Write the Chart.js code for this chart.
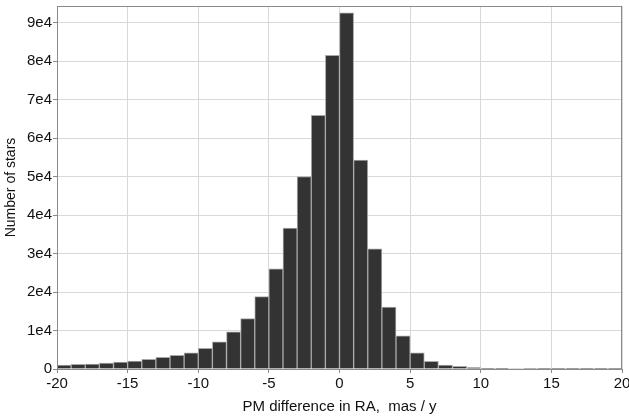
<!DOCTYPE html>
<html>
<head>
<meta charset="utf-8">
<script src="https://cdn.jsdelivr.net/npm/chart.js@4/dist/chart.umd.min.js"></script>
<style>
    html, body { margin: 0; padding: 0; background: #fff; }
    #wrap { width: 629px; height: 416px; }
</style>
</head>
<body>
<div id="wrap"><canvas id="myChart" width="629" height="416"></canvas></div>
<script>
// histogram data, bins of width 1 from -20 to 20
const binStart = -20
const binWidth = 1
const counts = [
    1000, 1200, 1300, 1550, 1800, 2070, 2500, 3000, 3550, 4200,
    5400, 7070, 9650, 13100, 18800, 26000, 36600, 50000, 65900, 81500,
    92500, 54300, 31200, 16100, 8600, 4200, 2000, 1000, 700, 350,
    200, 160, 130, 110, 100, 90, 80, 70, 60, 50
]
const xTicks = [-20, -15, -10, -5, 0, 5, 10, 15, 20]
const yTicks = [0, 10000, 20000, 30000, 40000, 50000, 60000, 70000, 80000, 90000]

const points = counts.map((c, i) => ({ x: binStart + binWidth * (i + 0.5), y: c }))

// grey frame round the plot area
const frame = {
    id: 'frame',
    afterDraw(chart) {
        const a = chart.chartArea
        const ctx = chart.ctx
        ctx.save()
        ctx.strokeStyle = '#8a8a8a'
        ctx.lineWidth = 1
        ctx.strokeRect(a.left + 0.5, a.top + 0.5, a.right - a.left - 1, a.bottom - a.top)
        ctx.restore()
    }
}

const config = {
    type: 'bar',
    data: {
        datasets: [{
            data: points,
            backgroundColor: '#333333',
            borderColor: '#a8a8a8',
            borderWidth: 1,
            borderSkipped: 'bottom',
            barPercentage: 1,
            categoryPercentage: 1,
        }]
    },
    options: {
        responsive: false,
        animation: false,
        plugins: {
            legend: { display: false },
            tooltip: { enabled: false }
        },
        layout: { padding: { top: 6, right: 0, left: 0, bottom: 0 } },
        scales: {
            x: {
                type: 'linear',
                offset: false,
                min: xTicks[0],
                max: xTicks[xTicks.length - 1],
                afterBuildTicks: s => { s.ticks = xTicks.map(v => ({ value: v })) },
                afterFit: s => { s.height = 47; s.paddingRight = 7; s.paddingLeft = 0 },
                grid: { color: '#d9d9d9', tickColor: '#8a8a8a', tickLength: 4, offset: false },
                border: { color: '#8a8a8a' },
                ticks: {
                    color: '#111',
                    font: { family: 'Liberation Sans', size: 15 },
                    padding: 2,
                    maxRotation: 0
                },
                title: {
                    display: true,
                    text: 'PM difference in RA,  mas / y',
                    color: '#111',
                    font: { family: 'Liberation Sans', size: 15 },
                    padding: { top: 0, bottom: 0 }
                }
            },
            y: {
                min: 0,
                max: 94300,
                afterBuildTicks: s => { s.ticks = yTicks.map(v => ({ value: v })) },
                afterFit: s => { s.width = 57; s.paddingTop = 0; s.paddingBottom = 0 },
                grid: { color: '#d9d9d9', tickColor: '#8a8a8a', tickLength: 4 },
                border: { color: '#8a8a8a' },
                ticks: {
                    color: '#111',
                    font: { family: 'Liberation Sans', size: 15 },
                    padding: 1,
                    callback: v => v === 0 ? '0' : (v / 10000) + 'e4'
                },
                title: {
                    display: true,
                    text: 'Number of stars',
                    color: '#111',
                    font: { family: 'Liberation Sans', size: 14 },
                    padding: { top: 3, bottom: 0 }
                }
            }
        }
    },
    plugins: [frame]
}

const myChart = new Chart(document.getElementById('myChart'), config)
</script>
</body>
</html>
